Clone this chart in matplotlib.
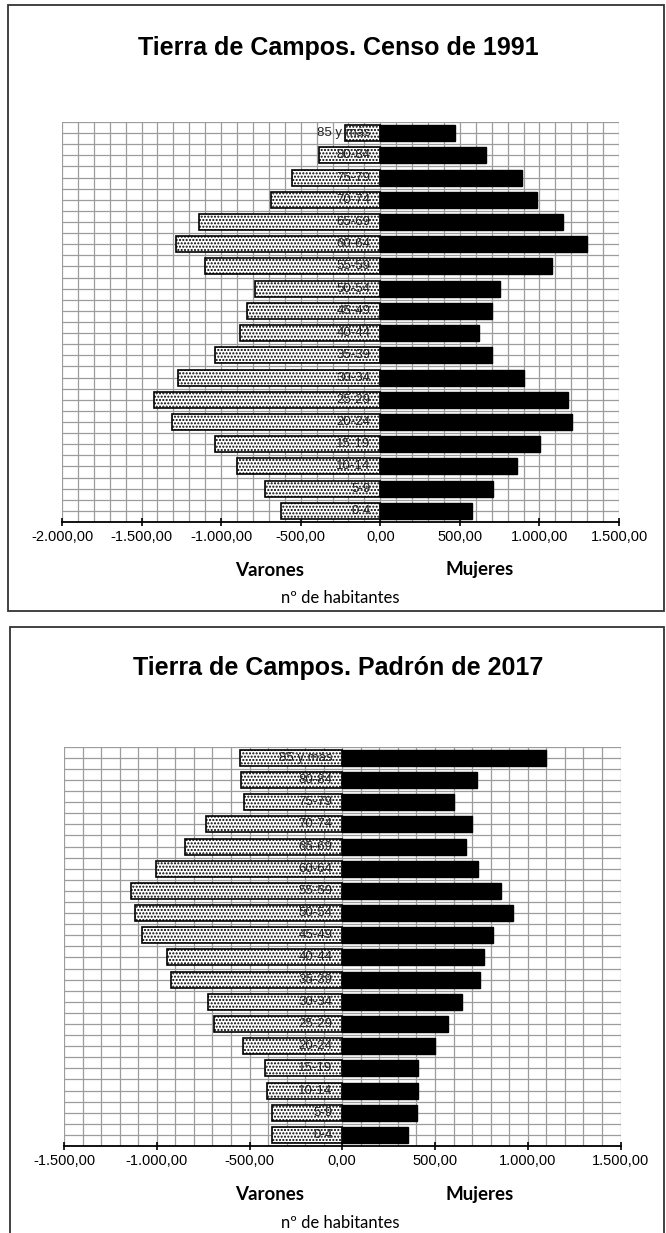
import numpy as np
import matplotlib.pyplot as plt
from matplotlib.patches import Rectangle
from matplotlib.ticker import FuncFormatter, MultipleLocator

#%% DATOS

edades = ['0-4', '5-9', '10-14', '15-19', '20-24', '25-29', '30-34', '35-39', '40-44',
          '45-49', '50-54', '55-59', '60-64', '65-69', '70-74', '75-79', '80-84', '85 y más']

# Censo 1991
varones_1991 = [625, 722, 899, 1040, 1308, 1422, 1270, 1040, 882,
                838, 785, 1104, 1281, 1139, 686, 553, 384, 222]
mujeres_1991 = [576, 711, 861, 1002, 1205, 1180, 903, 700, 620,
                700, 753, 1082, 1298, 1146, 985, 888, 665, 470]

# Padrón 2017
varones_2017 = [378, 380, 408, 417, 537, 690, 726, 923, 943,
                1080, 1117, 1141, 1004, 846, 733, 530, 544, 553]
mujeres_2017 = [356, 402, 410, 410, 501, 568, 643, 742, 765,
                810, 918, 855, 733, 667, 697, 605, 728, 1099]

titulos = ['Tierra de Campos. Censo de 1991', 'Tierra de Campos. Padrón de 2017']
limites = [(-2000, 1500), (-1500, 1500)]

#%% FUNCIONES

def fmt(v, pos):
    s = f"{v:,.2f}"
    return s.replace(',', 'X').replace('.', ',').replace('X', '.')


def piramide(ax, varones, mujeres, xlim):
    y = np.arange(len(edades))
    ax.barh(y, -np.array(varones), height=0.72, color='white', edgecolor='black',
            hatch='.....', linewidth=1.2, zorder=2)
    ax.barh(y, mujeres, height=0.72, color='black', edgecolor='black', linewidth=1, zorder=2)
    for yi, lab in zip(y, edades):
        ax.annotate(lab, (0, yi), xytext=(-7, 0), textcoords='offset points',
                    ha='right', va='center', fontsize=9.5, color='#222222',
                    family='Liberation Sans', zorder=3)
    ax.set_xlim(*xlim)
    ax.set_ylim(-0.5, len(edades) - 0.5)
    ax.xaxis.set_major_locator(MultipleLocator(500))
    ax.xaxis.set_minor_locator(MultipleLocator(100))
    ax.yaxis.set_major_locator(MultipleLocator(0.5))
    ax.xaxis.set_major_formatter(FuncFormatter(fmt))
    ax.grid(True, which='both', axis='x', color='#9c9c9c', linewidth=0.9)
    ax.grid(True, which='major', axis='y', color='#9c9c9c', linewidth=0.9)
    ax.set_axisbelow(True)
    for sp in ['top', 'right', 'left']:
        ax.spines[sp].set_visible(False)
    ax.spines['bottom'].set_linewidth(1.3)
    ax.tick_params(axis='y', left=False, labelleft=False)
    ax.tick_params(axis='x', which='major', direction='inout', length=6, width=1.2,
                   labelsize=10.5, pad=3)
    ax.tick_params(axis='x', which='minor', length=0)
    for t in ax.get_xticklabels():
        t.set_family('Liberation Sans')


#%% GRAFICO

fig = plt.figure(figsize=(6.66, 12.33), dpi=100)
H = 1233.0
W = 666.0

ax1 = fig.add_axes([62 / W, 1 - 522 / H, 557 / W, 400 / H])
piramide(ax1, varones_1991, mujeres_1991, limites[0])
ax2 = fig.add_axes([64 / W, 1 - 1146 / H, 556.5 / W, 399.3 / H])
piramide(ax2, varones_2017, mujeres_2017, limites[1])

# marcos
fig.patches.append(Rectangle((8 / W, 1 - 611 / H), 656 / W, 606 / H, transform=fig.transFigure,
                             fill=False, edgecolor='#333333', linewidth=1.3))
fig.patches.append(Rectangle((10 / W, -0.01), 654 / W, 1 - 627 / H + 0.01, transform=fig.transFigure,
                             fill=False, edgecolor='#333333', linewidth=1.3))

for dy, tit in zip([0, 620], titulos):
    fig.text(338 / W, 1 - (48 + dy) / H, tit, ha='center', va='center', fontsize=18,
             fontweight='bold', family='Liberation Sans')
    fig.text(270 / W, 1 - (570 + dy * 1.008) / H, 'Varones', ha='center', va='center',
             fontsize=13.5, fontweight='bold', family='Lato')
    fig.text(480 / W, 1 - (570 + dy * 1.008) / H, 'Mujeres', ha='center', va='center',
             fontsize=13.5, fontweight='bold', family='Lato')
    fig.text(340 / W, 1 - (598 + dy * 1.008) / H, 'nº de habitantes', ha='center', va='center',
             fontsize=12, family='Lato')

plt.savefig('out.png', dpi=100)
